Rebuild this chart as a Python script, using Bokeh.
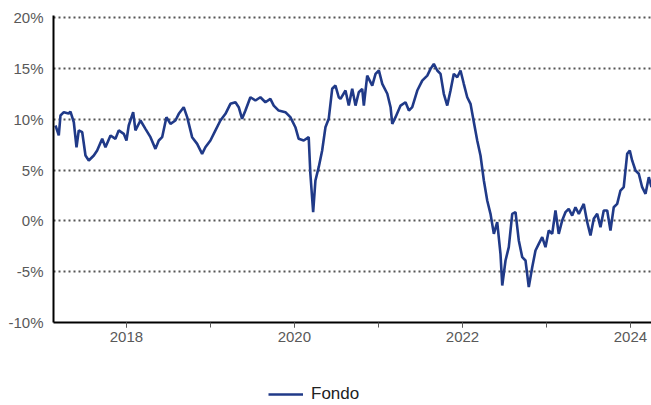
import numpy as np
import pandas as pd
from bokeh.plotting import figure
from bokeh.layouts import column
from bokeh.models import (FixedTicker, Legend, LegendItem, PrintfTickFormatter,
                          CustomJSTickFormatter, Range1d, ColumnDataSource)
from bokeh.embed import file_html
from bokeh.resources import INLINE

# Decimal-year positions
decimal_years = [
    2017.155, 2017.194, 2017.214, 2017.254, 2017.310, 2017.333, 2017.373, 2017.405, 2017.432, 2017.473,
    2017.512, 2017.551, 2017.611, 2017.651, 2017.711, 2017.750, 2017.810, 2017.869, 2017.908, 2017.968,
    2018.000, 2018.027, 2018.080, 2018.107, 2018.167, 2018.226, 2018.286, 2018.345, 2018.385, 2018.425,
    2018.476, 2018.524, 2018.583, 2018.623, 2018.682, 2018.723, 2018.782, 2018.842, 2018.901, 2018.940,
    2019.000, 2019.060, 2019.119, 2019.179, 2019.238, 2019.298, 2019.337, 2019.377, 2019.417, 2019.476,
    2019.536, 2019.595, 2019.655, 2019.714, 2019.754, 2019.813, 2019.893, 2019.952, 2020.012, 2020.051,
    2020.111, 2020.170, 2020.190, 2020.223, 2020.250, 2020.289, 2020.330, 2020.369, 2020.408, 2020.449,
    2020.488, 2020.527, 2020.548, 2020.607, 2020.646, 2020.687, 2020.726, 2020.765, 2020.806, 2020.825,
    2020.865, 2020.925, 2020.964, 2021.004, 2021.044, 2021.104, 2021.143, 2021.163, 2021.202, 2021.262,
    2021.321, 2021.361, 2021.401, 2021.461, 2021.520, 2021.580, 2021.619, 2021.658, 2021.699, 2021.738,
    2021.777, 2021.818, 2021.857, 2021.896, 2021.937, 2021.976, 2022.015, 2022.056, 2022.095, 2022.135,
    2022.175, 2022.214, 2022.254, 2022.294, 2022.333, 2022.373, 2022.413, 2022.452, 2022.473, 2022.512,
    2022.551, 2022.592, 2022.631, 2022.670, 2022.711, 2022.750, 2022.789, 2022.830, 2022.869, 2022.908,
    2022.949, 2022.988, 2023.027, 2023.068, 2023.107, 2023.146, 2023.187, 2023.226, 2023.265, 2023.306,
    2023.345, 2023.385, 2023.444, 2023.485, 2023.524, 2023.563, 2023.604, 2023.643, 2023.682, 2023.723,
    2023.762, 2023.801, 2023.842, 2023.881, 2023.920, 2023.961, 2023.992, 2024.020, 2024.060, 2024.099,
    2024.139, 2024.179, 2024.218, 2024.250,
]

# Fund return (%)
fondo_pct = [
    9.38, 8.40, 10.36, 10.69, 10.56, 10.75, 9.70, 7.24, 8.90, 8.72,
    6.43, 5.94, 6.43, 6.92, 8.07, 7.24, 8.40, 8.07, 8.90, 8.56,
    7.90, 9.38, 10.69, 8.90, 9.87, 9.05, 8.23, 7.08, 7.90, 8.23,
    10.20, 9.54, 9.87, 10.53, 11.18, 10.20, 8.23, 7.57, 6.59, 7.24,
    7.90, 8.90, 9.87, 10.53, 11.51, 11.67, 11.18, 10.04, 10.85, 12.16,
    11.84, 12.16, 11.67, 12.00, 11.34, 10.85, 10.69, 10.20, 9.21, 8.07,
    7.90, 8.23, 4.63, 0.85, 3.97, 5.28, 6.92, 9.21, 10.04, 12.99,
    13.31, 12.16, 12.00, 12.82, 11.34, 12.99, 11.34, 12.65, 12.99, 11.34,
    14.29, 13.31, 14.46, 14.79, 13.48, 12.50, 11.18, 9.54, 10.20, 11.34,
    11.67, 10.85, 11.18, 12.82, 13.80, 14.29, 14.95, 15.44, 14.79, 14.46,
    12.50, 11.34, 12.82, 14.46, 14.13, 14.79, 13.48, 12.16, 11.51, 9.70,
    7.90, 6.43, 3.97, 2.00, 0.69, -1.28, -0.13, -3.24, -6.36, -3.90,
    -2.59, 0.69, 0.85, -1.93, -3.57, -3.90, -6.52, -4.56, -2.92, -2.26,
    -1.60, -2.59, -0.95, -1.28, 1.02, -1.28, 0.03, 0.85, 1.18, 0.52,
    1.34, 0.69, 1.67, -0.13, -1.44, 0.20, 0.69, -0.62, 1.02, 1.02,
    -0.95, 1.34, 1.67, 2.98, 3.31, 6.59, 6.92, 5.94, 4.95, 4.63,
    3.31, 2.66, 4.30, 3.31,
]

series_label = "Fondo"
y_ticks = [-10, -5, 0, 5, 10, 15, 20]
labelled_years = [2018, 2020, 2022, 2024]
all_years = [2017, 2018, 2019, 2020, 2021, 2022, 2023, 2024, 2025]
x_start_year, x_end_year = 2017.131, 2024.25


def to_dt(y):
    yr = int(np.floor(y))
    s = pd.Timestamp(yr, 1, 1)
    e = pd.Timestamp(yr + 1, 1, 1)
    return s + (e - s) * (y - yr)


def ms(ts):
    return ts.value // 10**6


dates = [to_dt(y) for y in decimal_years]
src = ColumnDataSource(dict(date=dates, val=fondo_pct))

FONT = "Liberation Sans"
GRAY = "#595959"
LINE_COLOR = "#203a88"

p = figure(frame_width=598, frame_height=307, x_axis_type="datetime",
           x_range=Range1d(to_dt(x_start_year), to_dt(x_end_year)),
           y_range=Range1d(-10, 20.2),
           output_backend="svg", toolbar_location=None,
           min_border_left=53, min_border_top=15, min_border_right=0, min_border_bottom=30)
p.outline_line_color = None
p.background_fill_color = "white"
p.border_fill_color = "white"

r = p.line("date", "val", source=src, line_color=LINE_COLOR, line_width=2.6)

# x axis
xa = p.xaxis[0]
xa.ticker = FixedTicker(ticks=[ms(pd.Timestamp(y, 1, 1)) for y in labelled_years],
                        minor_ticks=[ms(pd.Timestamp(y, 1, 1)) for y in all_years])
xa.formatter = CustomJSTickFormatter(code="return new Date(tick).getUTCFullYear().toString();")
xa.axis_line_color = "black"
xa.axis_line_width = 2
xa.major_tick_in = 0
xa.major_tick_out = 5
xa.minor_tick_in = 0
xa.minor_tick_out = 5
xa.major_tick_line_color = GRAY
xa.minor_tick_line_color = GRAY
xa.major_label_text_font = FONT
xa.major_label_text_font_size = "15px"
xa.major_label_text_color = GRAY
xa.major_label_standoff = 4

# y axis
ya = p.yaxis[0]
ya.ticker = FixedTicker(ticks=y_ticks, minor_ticks=[])
ya.formatter = PrintfTickFormatter(format="%d%%")
ya.axis_line_color = "black"
ya.axis_line_width = 2
ya.major_tick_in = 0
ya.major_tick_out = 0
ya.major_label_text_font = FONT
ya.major_label_text_font_size = "15px"
ya.major_label_text_color = GRAY
ya.major_label_standoff = 10

p.xgrid.visible = False
p.ygrid.ticker = FixedTicker(ticks=y_ticks[1:])
p.ygrid.grid_line_color = "#555555"
p.ygrid.grid_line_width = 2
p.ygrid.grid_line_dash = "2 3"

# legend strip below the chart (the series is drawn there outside the visible range,
# only its legend entry shows)
lf = figure(width=651, height=53, x_range=Range1d(0, 1), y_range=Range1d(0, 1),
            output_backend="svg", toolbar_location=None,
            min_border_left=0, min_border_right=0, min_border_top=0, min_border_bottom=0)
lf.axis.visible = False
lf.grid.visible = False
lf.outline_line_color = None
lr = lf.line("date", "val", source=src, line_color=LINE_COLOR, line_width=2.6)
legend = Legend(items=[LegendItem(label=series_label, renderers=[lr])],
                location=(215, 1), orientation="horizontal",
                border_line_color=None, background_fill_alpha=0,
                label_text_font=FONT, label_text_font_size="17px",
                label_text_color="#222222", glyph_width=35, glyph_height=16,
                label_height=16, label_standoff=8,
                margin=0, padding=0)
lf.add_layout(legend)

layout = column(p, lf, spacing=0)
open("out.html", "w").write(file_html(layout, INLINE))
